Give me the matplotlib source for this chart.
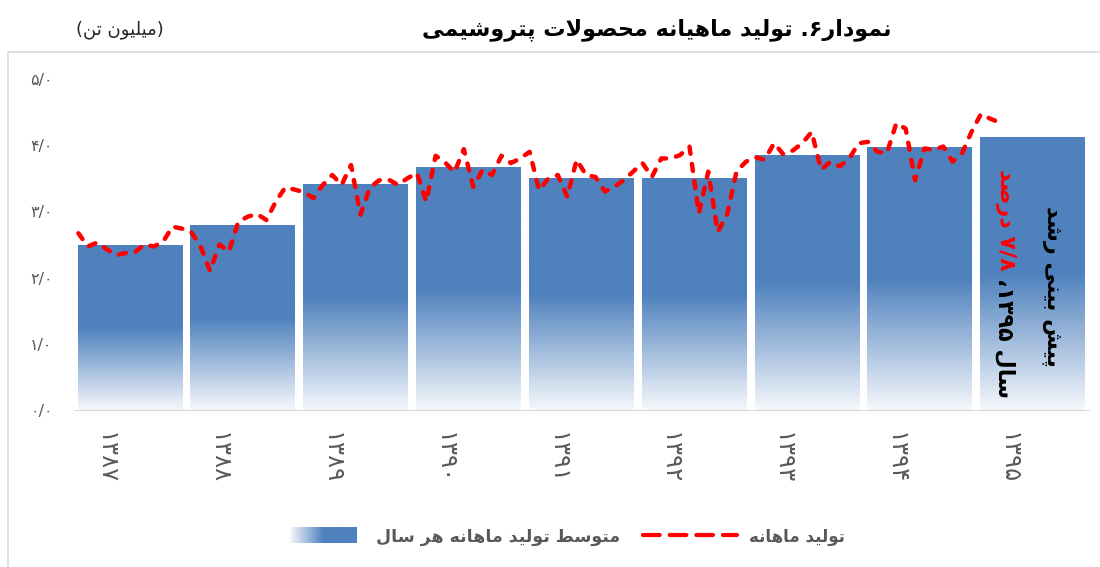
import re
import numpy as np
import matplotlib
matplotlib.use('Agg')
import matplotlib.pyplot as plt
import matplotlib.transforms as mtransforms
from matplotlib.colors import LinearSegmentedColormap
from matplotlib.lines import Line2D

plt.rcParams['font.family'] = ['DejaVu Sans']

# data
years = ['۱۳۸۷', '۱۳۸۸', '۱۳۸۹', '۱۳۹۰', '۱۳۹۱', '۱۳۹۲', '۱۳۹۳', '۱۳۹۴', '۱۳۹۵']
yearly_avg = [2.49, 2.79, 3.40, 3.66, 3.49, 3.50, 3.85, 3.96, 4.12]
monthly = [
    2.67, 2.47, 2.53, 2.43, 2.34, 2.37, 2.38, 2.50, 2.47, 2.54, 2.77, 2.74,  # 1387
    2.69, 2.47, 2.10, 2.50, 2.39, 2.84, 2.92, 2.96, 2.87, 3.15, 3.36, 3.33,  # 1388
    3.29, 3.20, 3.40, 3.55, 3.40, 3.70, 2.95, 3.36, 3.47, 3.48, 3.40, 3.50,  # 1389
    3.58, 3.15, 3.84, 3.74, 3.59, 3.94, 3.37, 3.63, 3.55, 3.84, 3.73, 3.80,  # 1390
    3.90, 3.32, 3.50, 3.55, 3.22, 3.78, 3.55, 3.52, 3.30, 3.37, 3.47, 3.60,  # 1391
    3.73, 3.52, 3.80, 3.80, 3.85, 3.98, 2.97, 3.60, 2.69, 2.95, 3.60, 3.75,  # 1392
    3.82, 3.78, 4.03, 3.86, 3.92, 4.03, 4.20, 3.63, 3.75, 3.68, 3.80, 4.03,  # 1393
    4.05, 3.90, 3.88, 4.33, 4.25, 3.47, 3.95, 3.93, 3.98, 3.75, 3.88, 4.20,  # 1394
    4.47, 4.40, 4.34,                                                        # 1395
]
y_ticks = [0, 1, 2, 3, 4, 5]
y_tick_labels = ['۰/۰', '۱/۰', '۲/۰', '۳/۰', '۴/۰', '۵/۰']

title = 'نمودار۶. تولید ماهیانه محصولات پتروشیمی'
unit = '(میلیون تن)'
legend_line = 'تولید ماهانه'
legend_bar = 'متوسط تولید ماهانه هر سال'
note_top = 'پیش بینی رشد'
note_black = 'سال ۱۳۹۵،'
note_red = '۷/۸ درصد'

# simple persian shaping (no bidi lib available)
FORMS = {
    'ا': ('\uFE8D', '\uFE8E', None, None),
    'ب': ('\uFE8F', '\uFE90', '\uFE91', '\uFE92'),
    'پ': ('\uFB56', '\uFB57', '\uFB58', '\uFB59'),
    'ت': ('\uFE95', '\uFE96', '\uFE97', '\uFE98'),
    'ح': ('\uFEA1', '\uFEA2', '\uFEA3', '\uFEA4'),
    'د': ('\uFEA9', '\uFEAA', None, None),
    'ر': ('\uFEAD', '\uFEAE', None, None),
    'س': ('\uFEB1', '\uFEB2', '\uFEB3', '\uFEB4'),
    'ش': ('\uFEB5', '\uFEB6', '\uFEB7', '\uFEB8'),
    'ص': ('\uFEB9', '\uFEBA', '\uFEBB', '\uFEBC'),
    'ط': ('\uFEC1', '\uFEC2', '\uFEC3', '\uFEC4'),
    'ل': ('\uFEDD', '\uFEDE', '\uFEDF', '\uFEE0'),
    'م': ('\uFEE1', '\uFEE2', '\uFEE3', '\uFEE4'),
    'ن': ('\uFEE5', '\uFEE6', '\uFEE7', '\uFEE8'),
    'ه': ('\uFEE9', '\uFEEA', '\uFEEB', '\uFEEC'),
    'و': ('\uFEED', '\uFEEE', None, None),
    'ی': ('\uFBFC', '\uFBFD', '\uFBFE', '\uFBFF'),
}
DUAL = set('بپتحسشصطلمنهی')
RIGHT = set('ادرو')


def fa(text):
    out = []
    i = 0
    while i < len(text):
        c = text[i]
        prev = text[i - 1] if i > 0 else ''
        nxt = text[i + 1] if i + 1 < len(text) else ''
        joins_prev = prev in DUAL and c in FORMS
        if c == 'ل' and nxt == 'ا':
            out.append('\uFEFC' if joins_prev else '\uFEFB')
            i += 2
            continue
        if c in FORMS:
            joins_next = c in DUAL and (nxt in DUAL or nxt in RIGHT)
            iso, fin, ini, med = FORMS[c]
            if joins_prev and joins_next:
                out.append(med)
            elif joins_prev:
                out.append(fin)
            elif joins_next:
                out.append(ini)
            else:
                out.append(iso)
        else:
            out.append(c)
        i += 1
    s = ''.join(out)[::-1]
    s = s.translate(str.maketrans('()', ')('))
    s = re.sub('[۰-۹]+(?:/[۰-۹]+)*', lambda m: m.group()[::-1], s)
    return s


def fx(px):
    return px / 1100


def fy(py):
    return 1 - py / 567


blue = '#4F81BD'
grey = '#595959'
bar_cmap = LinearSegmentedColormap.from_list('bar', [(0, '#F5F8FC'), (0.5, blue), (1, blue)])

fig = plt.figure(figsize=(11, 5.67), dpi=100)
ax = fig.add_axes([0.067, 0.2769, 0.923, 0.5838])

x = np.arange(len(years))
bars = ax.bar(x, yearly_avg, width=0.93, color='none', edgecolor='none')
grad = np.linspace(0, 1, 256).reshape(-1, 1)
for b in bars:
    ax.imshow(grad, cmap=bar_cmap, origin='lower', aspect='auto', interpolation='bicubic',
              extent=[b.get_x(), b.get_x() + b.get_width(), 0, b.get_height()], zorder=1)

monthly_x = -0.5 + (np.arange(len(monthly)) + 0.5) / 12
ax.plot(monthly_x, monthly, color='#FF0000', lw=3.2, dashes=(1.6, 2.3),
        dash_capstyle='round', dash_joinstyle='round', zorder=3)

ax.set_xlim(-0.5, 8.5)
ax.set_ylim(0, 5)
ax.set_yticks(y_ticks, y_tick_labels)
ax.set_xticks(x, years, rotation=-90)
ax.tick_params(length=0, colors=grey)
ax.tick_params(axis='y', pad=15, labelsize=11.5)
ax.tick_params(axis='x', pad=16, labelsize=17.5)
for lab in ax.get_xticklabels():
    lab.set_transform(lab.get_transform() + mtransforms.ScaledTranslation(-0.24, 0, fig.dpi_scale_trans))
for s in ['top', 'right', 'left']:
    ax.spines[s].set_visible(False)
ax.spines['bottom'].set_color('#D9D9D9')

# note inside last bar
ax.text(8.17, 1.87, fa(note_top), rotation=-90, ha='center', va='center',
        fontsize=16, fontweight='bold', color='black', zorder=4)
t_black = ax.text(7.756, 0.18, fa(note_black), rotation=-90, ha='center', va='bottom',
                  fontsize=16, fontweight='bold', color='black', zorder=4)
ax.annotate(fa(note_red), xy=(0.5, 1), xycoords=t_black, xytext=(0, 5), textcoords='offset points',
            rotation=-90, ha='center', va='bottom', fontsize=16, fontweight='bold', color='#FF0000', zorder=4)

# chart border
fig.add_artist(plt.Rectangle((fx(8), -0.1), 1.1, fy(52) + 0.1, transform=fig.transFigure,
                             fill=False, edgecolor='#D9D9D9', lw=1.2))

# title and unit
fig.text(fx(657), fy(30), fa(title), ha='center', va='center', fontsize=16, fontweight='bold', color='black')
fig.text(fx(120), fy(30), fa(unit), ha='center', va='center', fontsize=13, color='#262626')

# legend
ly = fy(537)
fig.text(fx(845), ly, fa(legend_line), ha='right', va='center', fontsize=12, fontweight='bold', color=grey)
fig.add_artist(Line2D([fx(643), fx(737)], [fy(535), fy(535)], transform=fig.transFigure,
                      color='#FF0000', lw=3, dashes=(4, 2.4), dash_capstyle='round'))
fig.text(fx(620), ly, fa(legend_bar), ha='right', va='center', fontsize=12.5, fontweight='bold', color=grey)
lax = fig.add_axes([fx(290), fy(543), fx(67), 16 / 567])
lax.imshow(np.linspace(0, 1, 256).reshape(1, -1), cmap=bar_cmap, aspect='auto')
lax.axis('off')

fig.savefig('out.png', dpi=100)
